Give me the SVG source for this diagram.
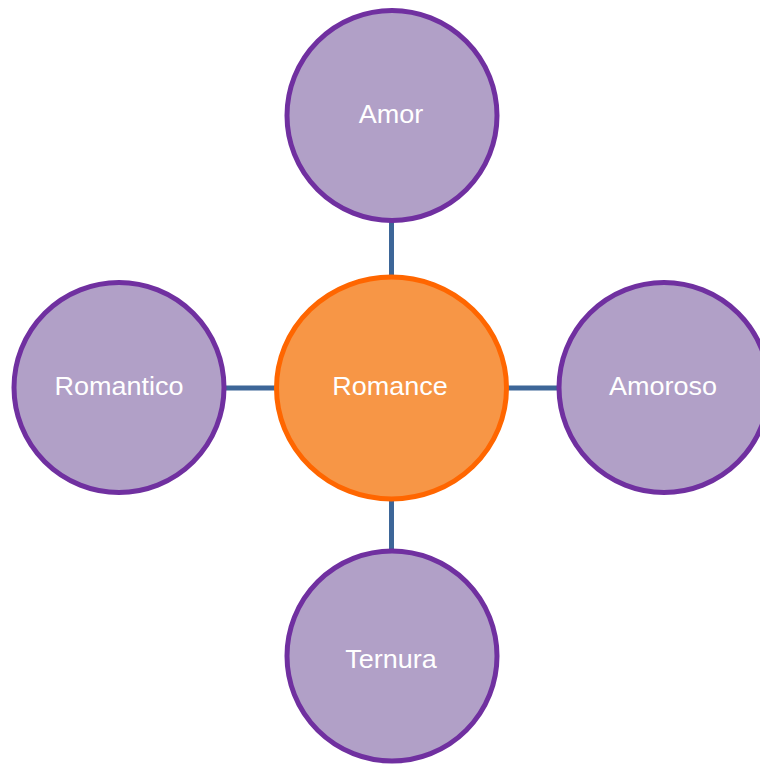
<svg xmlns="http://www.w3.org/2000/svg" width="760" height="768" viewBox="0 0 760 768">
<style>
.sat{fill:#b1a0c7;stroke:#7030a0;stroke-width:5}
.hub{fill:#f79646;stroke:#ff6600;stroke-width:5}
.lbl{font-family:"Liberation Sans",Arial,sans-serif;font-size:25px;fill:#ffffff;text-anchor:middle}
.con{stroke:#3d6698;stroke-width:5;fill:none}
</style>
<rect width="760" height="768" fill="#ffffff"/>
<g id="connectors">
<line class="con" x1="391.5" y1="220" x2="391.5" y2="277"/>
<line class="con" x1="391.5" y1="499" x2="391.5" y2="556"/>
<line class="con" x1="224" y1="388" x2="276" y2="388"/>
<line class="con" x1="507" y1="388" x2="560" y2="388"/>
</g>
<g id="romance">
<ellipse class="hub" cx="391.5" cy="388" rx="115" ry="111"/>
<text class="lbl" transform="translate(390,395) scale(1.08,1)">Romance</text>
</g>
<g id="amor">
<circle class="sat" cx="392" cy="115.5" r="105"/>
<text class="lbl" transform="translate(391,123) scale(1.08,1)">Amor</text>
</g>
<g id="romantico">
<circle class="sat" cx="119" cy="387.5" r="105"/>
<text class="lbl" transform="translate(119,395) scale(1.08,1)">Romantico</text>
</g>
<g id="amoroso">
<circle class="sat" cx="664" cy="387.5" r="105"/>
<text class="lbl" transform="translate(663,395) scale(1.08,1)">Amoroso</text>
</g>
<g id="ternura">
<circle class="sat" cx="392" cy="656" r="105"/>
<text class="lbl" transform="translate(391,668) scale(1.08,1)">Ternura</text>
</g>
</svg>
